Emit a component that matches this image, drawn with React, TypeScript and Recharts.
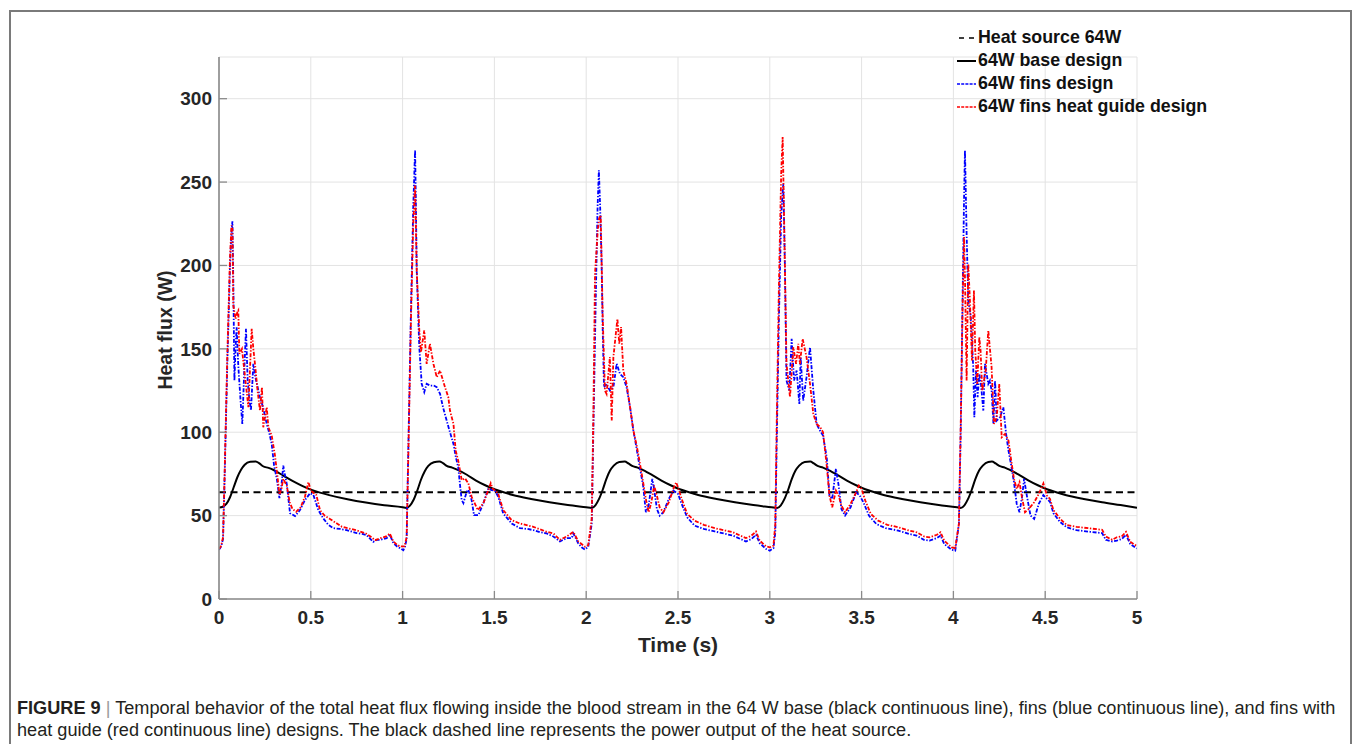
import React from "react";
import { LineChart, Line, XAxis, YAxis, CartesianGrid, Legend, Label } from "recharts";

type Pt = [number, number];

const xTicks = [0, 0.5, 1, 1.5, 2, 2.5, 3, 3.5, 4, 4.5, 5];
const yTicks = [0, 50, 100, 150, 200, 250, 300];

const heatSource: Pt[] = [[0, 64], [5, 64]];

const baseDesign: Pt[] = [
  [0, 54.8], [0.02, 55.3], [0.04, 57], [0.06, 61], [0.08, 67], [0.1, 73], [0.12, 77.5], [0.14, 80.5], [0.17, 82.3], [0.2, 82.5], [0.22, 81.3], [0.24, 79.6], [0.27, 78.6], [0.3, 77.2], [0.35, 74], [0.4, 70.8], [0.45, 68], [0.5, 65.6], [0.55, 63.8], [0.6, 62.3], [0.7, 59.8], [0.8, 57.8], [0.9, 56.2], [1.0, 55], [1.02, 54.6],
  [1.04, 56], [1.06, 59.5], [1.08, 65], [1.1, 71.5], [1.12, 76.5], [1.14, 79.8], [1.17, 82], [1.2, 82.5], [1.22, 81.5], [1.24, 79.8], [1.27, 78.8], [1.3, 77.4], [1.35, 74.5], [1.4, 71], [1.45, 68.2], [1.5, 65.8], [1.55, 64], [1.6, 62.4], [1.7, 60], [1.8, 58], [1.9, 56.3], [2.0, 55], [2.03, 54.6],
  [2.05, 56.2], [2.07, 60], [2.09, 65.5], [2.11, 72], [2.13, 77], [2.15, 80], [2.18, 82.2], [2.21, 82.4], [2.23, 81.3], [2.25, 79.8], [2.28, 78.8], [2.31, 77.3], [2.36, 74.3], [2.41, 71], [2.46, 68.2], [2.51, 65.8], [2.56, 64], [2.61, 62.4], [2.71, 60], [2.81, 58], [2.91, 56.3], [3.01, 55], [3.04, 54.6],
  [3.06, 56.2], [3.08, 60], [3.1, 65.5], [3.12, 72], [3.14, 77], [3.16, 80], [3.19, 82.2], [3.22, 82.4], [3.24, 81.3], [3.26, 79.8], [3.29, 78.8], [3.32, 77.3], [3.37, 74.3], [3.42, 71], [3.47, 68.2], [3.52, 65.8], [3.57, 64], [3.62, 62.4], [3.72, 60], [3.82, 58], [3.92, 56.3], [4.02, 55], [4.04, 54.6],
  [4.06, 56.2], [4.08, 60], [4.1, 65.5], [4.12, 72], [4.14, 77], [4.16, 80], [4.19, 82.2], [4.21, 82.4], [4.23, 81.3], [4.25, 79.8], [4.28, 78.8], [4.31, 77.3], [4.36, 74.3], [4.41, 71], [4.46, 68.2], [4.51, 65.8], [4.56, 64], [4.61, 62.4], [4.71, 60], [4.81, 58], [4.91, 56.3], [5.0, 54.7],
];

const finsDesign: Pt[] = [
  [0, 29.5], [0.012, 31.5], [0.022, 36], [0.03, 70], [0.045, 140], [0.06, 200], [0.068, 220], [0.073, 226.5], [0.078, 190], [0.084, 131], [0.09, 150], [0.096, 163], [0.105, 140], [0.118, 118], [0.127, 105], [0.137, 135], [0.147, 162], [0.156, 131], [0.165, 120], [0.174, 113], [0.187, 141], [0.2, 132], [0.223, 121], [0.24, 115], [0.26, 105], [0.275, 99], [0.287, 93], [0.3, 80], [0.315, 72], [0.329, 60.5], [0.34, 68], [0.35, 80], [0.36, 74], [0.369, 69], [0.387, 51.4], [0.414, 49.7], [0.441, 53.3], [0.468, 59.3], [0.496, 63.4], [0.514, 62.4], [0.541, 53.3], [0.568, 48.3], [0.595, 44.5], [0.623, 42.5], [0.66, 42], [0.695, 41.3], [0.72, 40.5], [0.75, 39.5], [0.78, 39], [0.804, 38.3], [0.82, 36.5], [0.84, 34.3], [0.86, 35.5], [0.877, 35.5], [0.895, 36], [0.913, 36.5], [0.931, 38.3], [0.95, 33.5], [0.97, 31.5], [0.986, 30.5], [1.004, 29.3], [1.013, 31.3],
  [1.022, 36], [1.031, 89], [1.045, 170], [1.058, 235], [1.068, 269.3], [1.072, 240], [1.077, 197], [1.085, 170], [1.091, 151], [1.104, 129], [1.118, 124], [1.131, 129], [1.15, 128], [1.17, 128], [1.186, 127], [1.204, 123], [1.22, 115], [1.24, 107], [1.258, 100], [1.277, 93], [1.29, 85], [1.303, 79], [1.315, 66], [1.322, 59.3], [1.331, 57.5], [1.349, 64.3], [1.358, 65.5], [1.376, 59.3], [1.389, 50.3], [1.413, 50.3], [1.44, 57.5], [1.467, 66.3], [1.485, 65.3], [1.503, 65], [1.521, 61.3], [1.548, 51.3], [1.594, 45.3], [1.639, 42.5], [1.68, 42], [1.712, 41.3], [1.75, 40], [1.785, 39.3], [1.821, 37.5], [1.857, 34.5], [1.875, 35.5], [1.894, 36.5], [1.921, 36.5], [1.93, 39.3], [1.957, 33.3], [1.975, 31], [1.993, 29.7], [2.011, 31.3],
  [2.03, 45], [2.039, 101], [2.052, 180], [2.062, 235], [2.069, 257], [2.076, 235], [2.084, 201], [2.09, 161], [2.097, 127], [2.111, 129], [2.129, 125], [2.148, 127], [2.166, 141], [2.184, 135], [2.202, 133], [2.22, 127], [2.239, 115], [2.257, 101], [2.275, 90], [2.29, 80], [2.31, 68], [2.325, 52], [2.34, 56], [2.36, 72], [2.37, 66], [2.385, 54], [2.4, 50], [2.42, 52], [2.45, 60], [2.475, 65], [2.5, 63], [2.52, 57], [2.55, 49], [2.59, 44], [2.64, 42], [2.7, 40.5], [2.76, 39], [2.8, 38], [2.84, 36], [2.87, 34.5], [2.9, 36], [2.925, 38.5], [2.945, 33.5], [2.98, 30], [3.0, 29], [3.02, 30.5],
  [3.03, 40], [3.037, 90], [3.05, 170], [3.062, 230], [3.073, 249], [3.078, 225], [3.082, 201], [3.091, 131], [3.106, 125], [3.119, 156], [3.132, 131], [3.146, 137], [3.161, 117], [3.168, 145], [3.182, 119], [3.2, 133], [3.219, 151], [3.237, 125], [3.255, 105], [3.273, 101], [3.29, 98], [3.31, 85], [3.325, 62], [3.34, 60], [3.36, 78], [3.375, 68], [3.39, 54], [3.41, 50], [3.44, 55], [3.47, 64], [3.49, 62], [3.51, 58], [3.54, 50], [3.58, 45], [3.63, 42.5], [3.7, 41], [3.76, 39], [3.8, 38], [3.84, 35.5], [3.87, 35], [3.91, 36.5], [3.93, 38], [3.95, 33], [3.99, 29.5], [4.01, 29],
  [4.03, 45], [4.04, 101], [4.05, 180], [4.058, 240], [4.063, 269], [4.072, 219], [4.081, 179], [4.094, 170], [4.108, 139], [4.114, 109], [4.123, 137], [4.132, 121], [4.141, 135], [4.15, 129], [4.163, 113], [4.172, 141], [4.19, 129], [4.199, 131], [4.208, 125], [4.218, 105], [4.227, 131], [4.236, 107], [4.254, 109], [4.272, 115], [4.287, 99], [4.3, 89], [4.315, 80], [4.33, 70], [4.345, 57], [4.36, 52], [4.375, 62], [4.385, 72], [4.4, 62], [4.42, 50], [4.44, 48], [4.465, 57], [4.49, 62.3], [4.51, 60], [4.526, 58.3], [4.545, 51.4], [4.58, 46.3], [4.617, 43], [4.67, 41.3], [4.745, 40.3], [4.81, 39.5], [4.83, 35.5], [4.865, 34.5], [4.89, 35], [4.917, 36], [4.94, 38.5], [4.963, 33], [4.998, 30.3],
];

const finsHeatGuide: Pt[] = [
  [0, 30], [0.012, 32], [0.022, 37], [0.03, 72], [0.045, 145], [0.06, 205], [0.068, 224], [0.073, 222], [0.078, 176], [0.09, 168], [0.1, 172], [0.105, 173], [0.111, 147], [0.125, 150], [0.14, 135], [0.16, 115], [0.178, 162], [0.187, 150], [0.196, 141], [0.21, 125], [0.223, 113], [0.234, 127], [0.241, 103], [0.26, 115], [0.269, 103], [0.287, 98], [0.305, 86], [0.32, 72], [0.329, 62.5], [0.34, 66], [0.35, 72], [0.369, 68], [0.385, 58], [0.4, 54], [0.42, 52.3], [0.445, 55], [0.468, 61.3], [0.487, 70.2], [0.5, 65], [0.53, 62.4], [0.55, 53.3], [0.575, 50], [0.6, 48.3], [0.67, 43.3], [0.7, 42.5], [0.745, 41.3], [0.8, 39.3], [0.825, 37.5], [0.85, 35.3], [0.88, 36.5], [0.91, 37.5], [0.93, 39.3], [0.95, 34.5], [0.97, 32.5], [0.986, 31.5], [1.01, 31.5],
  [1.022, 37], [1.031, 85], [1.045, 165], [1.058, 225], [1.068, 248], [1.077, 197], [1.091, 161], [1.1, 148], [1.118, 161], [1.131, 141], [1.149, 153], [1.168, 141], [1.186, 133], [1.204, 137], [1.231, 127], [1.249, 121], [1.258, 113], [1.277, 105], [1.289, 89], [1.303, 83], [1.322, 71.3], [1.34, 72.3], [1.358, 69.4], [1.376, 61.3], [1.41, 53.3], [1.44, 57.5], [1.467, 65.3], [1.48, 69.4], [1.49, 66.3], [1.52, 63.4], [1.548, 53.3], [1.594, 47.3], [1.639, 45.3], [1.712, 43.3], [1.785, 40.3], [1.821, 39.3], [1.857, 35.5], [1.894, 37.5], [1.93, 40.3], [1.957, 34.5], [1.993, 31.3], [2.011, 32.3],
  [2.03, 48], [2.039, 110], [2.048, 195], [2.063, 221], [2.07, 228], [2.079, 230], [2.09, 169], [2.102, 125], [2.111, 123], [2.129, 145], [2.139, 107], [2.148, 145], [2.17, 168], [2.18, 153], [2.19, 163], [2.202, 137], [2.22, 129], [2.239, 115], [2.257, 101], [2.275, 92], [2.29, 83], [2.31, 70], [2.325, 60], [2.34, 52], [2.355, 58], [2.37, 68], [2.385, 62], [2.4, 55], [2.42, 52], [2.45, 58], [2.475, 66], [2.49, 70], [2.5, 67], [2.52, 60], [2.55, 51], [2.59, 47], [2.64, 44.5], [2.7, 42.5], [2.76, 41], [2.8, 40], [2.84, 38], [2.87, 36.5], [2.9, 38], [2.925, 40.5], [2.945, 35], [2.98, 31.5], [3.0, 31], [3.02, 32],
  [3.03, 45], [3.037, 101], [3.05, 190], [3.062, 255], [3.07, 277], [3.076, 240], [3.082, 201], [3.091, 141], [3.11, 121], [3.128, 151], [3.143, 141], [3.155, 153], [3.164, 141], [3.179, 156], [3.2, 145], [3.219, 129], [3.237, 111], [3.255, 105], [3.275, 103], [3.29, 100], [3.31, 80], [3.325, 62], [3.34, 55], [3.36, 65], [3.375, 62], [3.39, 56], [3.41, 52], [3.44, 57], [3.47, 64], [3.485, 68], [3.5, 66], [3.52, 59], [3.55, 51], [3.59, 47], [3.64, 44.5], [3.7, 43], [3.76, 41], [3.8, 40], [3.84, 37.5], [3.87, 37], [3.91, 38.5], [3.93, 40], [3.95, 35], [3.99, 31], [4.01, 30.5],
  [4.03, 45], [4.04, 105], [4.05, 175], [4.058, 217], [4.063, 193], [4.072, 131], [4.081, 201], [4.09, 179], [4.101, 143], [4.112, 185], [4.119, 149], [4.13, 129], [4.141, 157], [4.148, 149], [4.157, 125], [4.176, 137], [4.19, 161], [4.208, 139], [4.221, 105], [4.236, 109], [4.25, 129], [4.263, 97], [4.281, 99], [4.3, 95], [4.315, 83], [4.33, 72], [4.345, 66], [4.36, 70], [4.375, 60], [4.39, 52], [4.41, 54], [4.44, 58], [4.465, 63], [4.49, 69.3], [4.51, 62], [4.526, 60], [4.545, 53.3], [4.58, 48.3], [4.617, 44.3], [4.67, 43.3], [4.745, 42.3], [4.81, 41.5], [4.83, 37.5], [4.865, 35.5], [4.89, 37], [4.917, 37.5], [4.94, 40.3], [4.963, 34.3], [4.998, 31.8],
];

const seriesNames = ["Heat source 64W", "64W base design", "64W fins design", "64W fins heat guide design"];

const toRows = (pts: Pt[]) => pts.map(([t, v]) => ({ t, v }));

const FONT = "'Liberation Sans', Arial, Helvetica, sans-serif";
const DASH_DOT = "4 1.6 1.4 1.6";

const legendItems = [
  { name: seriesNames[0], color: "#000000", dash: "5 5", width: 1.6, x1: 4, x2: 19 },
  { name: seriesNames[1], color: "#000000", dash: "", width: 2, x1: 2, x2: 21 },
  { name: seriesNames[2], color: "#0000ff", dash: "3 1.2", width: 1.6, x1: 2, x2: 21 },
  { name: seriesNames[3], color: "#ff0000", dash: "3 1.2", width: 1.6, x1: 2, x2: 21 },
];

const LegendContent = () => (
  <div style={{ fontFamily: FONT, fontWeight: "bold", fontSize: 17.8, color: "#111" }}>
    {legendItems.map((it) => (
      <div key={it.name} style={{ display: "flex", alignItems: "center", height: 23, whiteSpace: "nowrap" }}>
        <svg width={22} height={10} style={{ marginRight: 1 }}>
          <line x1={it.x1} y1={5} x2={it.x2} y2={5} stroke={it.color} strokeWidth={it.width} strokeDasharray={it.dash || undefined} />
        </svg>
        <span>{it.name}</span>
      </div>
    ))}
  </div>
);

const YLabel = (props: any) => {
  const vb = props.viewBox || {};
  const cx = vb.x + vb.width - 54;
  const cy = vb.y + vb.height / 2 + 2;
  return (
    <text x={cx} y={cy} transform={`rotate(-90 ${cx} ${cy})`} textAnchor="middle" dominantBaseline="central"
      style={{ fontFamily: FONT, fontWeight: "bold", fontSize: 19.5, fill: "#262626" }}>
      Heat flux (W)
    </text>
  );
};

const XLabel = (props: any) => {
  const vb = props.viewBox || {};
  const cx = vb.x + vb.width / 2;
  const y = vb.y + 53;
  return (
    <text x={cx} y={y} textAnchor="middle"
      style={{ fontFamily: FONT, fontWeight: "bold", fontSize: 21, fill: "#262626" }}>
      Time (s)
    </text>
  );
};

const tickStyle = { fill: "#262626", fontSize: 19, fontWeight: "bold" as const, fontFamily: FONT };
const axisColor = "#8a8a8a";

export default function App() {
  return (
    <div style={{ position: "absolute", left: 0, top: 0, width: 1358, height: 744, overflow: "hidden", background: "#fff" }}>
      <div style={{ position: "absolute", left: 9, top: 10, width: 1343, height: 800, border: "2px solid #7a7a7a", boxSizing: "border-box" }} />
      <div style={{ position: "absolute", left: 0, top: 0 }}>
        <LineChart width={1358} height={660} margin={{ top: 57, right: 221, left: 0, bottom: 0 }}>
          <CartesianGrid stroke="#e3e3e3" strokeWidth={1} />
          <XAxis
            type="number"
            dataKey="t"
            domain={[0, 5]}
            ticks={xTicks}
            allowDataOverflow
            height={61}
            stroke={axisColor}
            axisLine={{ stroke: axisColor, strokeWidth: 1.6 }}
            tickLine={{ stroke: axisColor, strokeWidth: 1.3 }}
            tickSize={-8}
            tickMargin={20}
            tick={tickStyle}
            interval={0}
          >
            <Label content={<XLabel />} />
          </XAxis>
          <YAxis
            type="number"
            domain={[0, 325]}
            ticks={yTicks}
            allowDataOverflow
            width={219}
            stroke={axisColor}
            axisLine={{ stroke: axisColor, strokeWidth: 1.6 }}
            tickLine={{ stroke: axisColor, strokeWidth: 1.3 }}
            tickSize={-8}
            tickMargin={15}
            tick={tickStyle}
            interval={0}
          >
            <Label content={<YLabel />} />
          </YAxis>
          <Legend
            layout="vertical"
            align="center"
            verticalAlign="middle"
            content={<LegendContent />}
            wrapperStyle={{ left: 955, top: 26, width: 320 }}
          />
          <Line data={toRows(heatSource)} dataKey="v" name={seriesNames[0]} type="linear" stroke="#000" strokeWidth={1.8} strokeDasharray="7 4.5" dot={false} isAnimationActive={false} />
          <Line data={toRows(baseDesign)} dataKey="v" name={seriesNames[1]} type="monotone" stroke="#000" strokeWidth={2} dot={false} isAnimationActive={false} />
          <Line data={toRows(finsDesign)} dataKey="v" name={seriesNames[2]} type="linear" stroke="#0000ff" strokeWidth={1.8} strokeDasharray={DASH_DOT} dot={false} isAnimationActive={false} />
          <Line data={toRows(finsHeatGuide)} dataKey="v" name={seriesNames[3]} type="linear" stroke="#ff0000" strokeWidth={1.8} strokeDasharray={DASH_DOT} dot={false} isAnimationActive={false} />
        </LineChart>
      </div>
      <div style={{ position: "absolute", left: 17, top: 697, fontFamily: FONT, fontSize: 18.15, lineHeight: "22px", color: "#231f20", whiteSpace: "nowrap" }}>
        <div>
          <b>FIGURE 9</b> <span style={{ color: "#9a9a9a" }}>|</span> Temporal behavior of the total heat flux flowing inside the blood stream in the 64 W base (black continuous line), fins (blue continuous line), and fins with
        </div>
        <div>heat guide (red continuous line) designs. The black dashed line represents the power output of the heat source.</div>
      </div>
    </div>
  );
}
